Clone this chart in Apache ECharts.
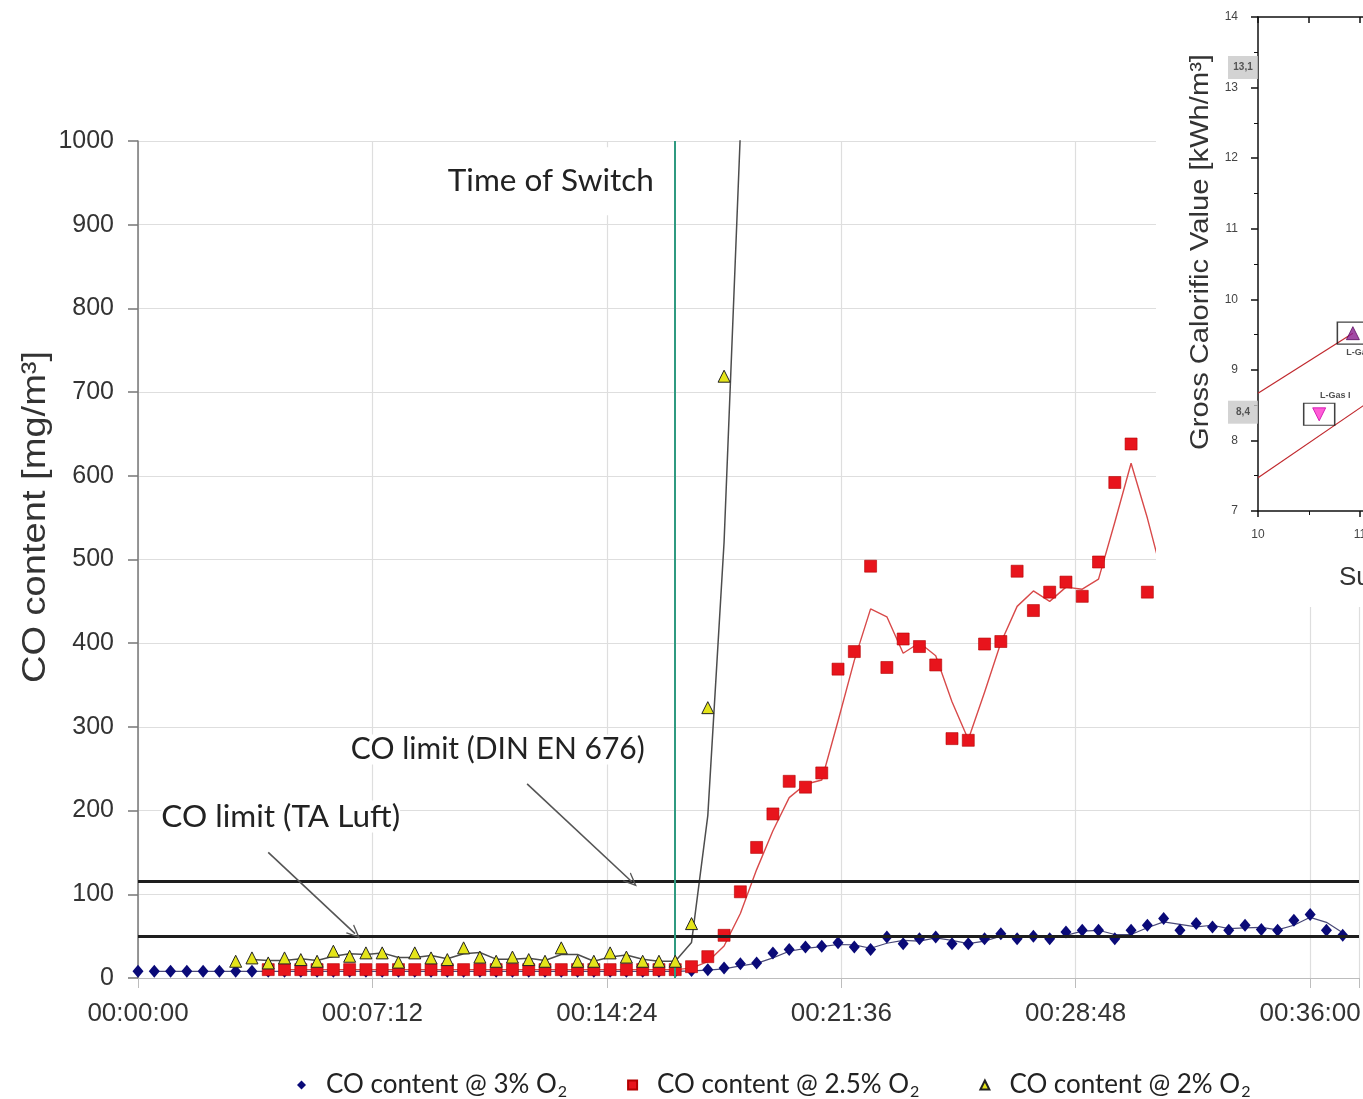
<!DOCTYPE html>
<html>
<head>
<meta charset="utf-8">
<title>CO content after gas switch</title>
<script src="https://cdn.jsdelivr.net/npm/echarts@6/dist/echarts.min.js"></script>
<style>
  html, body { margin: 0; padding: 0; background: #fff; }
  #chart { width: 1363px; height: 1099px; }
</style>
</head>
<body>
<div id="chart"></div>
<script>
// ---- measured data: one reading every 30 s ----
const sampleTimes = [
  0, 30, 60, 90, 120, 150, 180, 210, 240, 270,
  300, 330, 360, 390, 420, 450, 480, 510, 540, 570,
  600, 630, 660, 690, 720, 750, 780, 810, 840, 870,
  900, 930, 960, 990, 1020, 1050, 1080, 1110, 1140, 1170,
  1200, 1230, 1260, 1290, 1320, 1350, 1380, 1410, 1440, 1470,
  1500, 1530, 1560, 1590, 1620, 1650, 1680, 1710, 1740, 1770,
  1800, 1830, 1860, 1890, 1920, 1950, 1980, 2010, 2040, 2070,
  2100, 2130, 2160, 2190, 2220
];

// CO content @ 3% O2  [mg/m3]
const co3 = [
  8, 8, 8, 8, 8, 8, 8, 8, 8, 8,
  8, 8, 8, 8, 8, 8, 8, 8, 8, 8,
  8, 8, 8, 8, 8, 8, 8, 8, 8, 8,
  8, 8, 8, 8, 9, 10, 12, 17, 18, 30,
  34, 37, 38, 42, 37, 34, 49, 41, 47, 49,
  41, 41, 47, 53, 47, 50, 47, 55, 57, 57,
  47, 57, 63, 71, 57, 65, 61, 57, 63, 58,
  57, 69, 76, 57, 51
];

// CO content @ 2.5% O2  [mg/m3]
const co25 = [
  null, null, null, null, null, null, null, null, 10, 10,
  10, 10, 10, 10, 10, 10, 10, 10, 10, 10,
  10, 10, 10, 10, 10, 10, 10, 10, 10, 10,
  10, 10, 10, 10, 13.5, 25.5, 51, 103, 156, 196,
  235, 228, 245, 369, 390, 492, 371, 405, 396, 374,
  286, 284, 399, 402, 486, 439, 461, 473, 456, 497,
  592, 638, 461, 489, null, null, null, null, null, null,
  null, null, null, null, null
];

// CO content @ 2% O2  [mg/m3]
const co2 = [
  null, null, null, null, null, null, 20, 24, 18, 24,
  22, 20, 32, 26, 30, 30, 19, 30, 24, 22,
  36, 25, 20, 25, 22, 20, 36, 20, 20, 30,
  25, 20, 20, 20, 65, 323, 719, 1300, null, null,
  null, null, null, null, null, null, null, null, null, null,
  null, null, null, null, null, null, null, null, null, null,
  null, null, null, null, null, null, null, null, null, null,
  null, null, null, null, null
];

const seriesNames = ['CO content @ 3% O₂', 'CO content @ 2.5% O₂', 'CO content @ 2% O₂'];

// time axis tick labels, one every 432 s
const timeTicks = ['00:00:00', '00:07:12', '00:14:24', '00:21:36', '00:28:48', '00:36:00'];
const tickStep = 432;

// emission limits [mg/m3] and switch time [s]
const limitTaLuft = 50;
const limitDinEn676 = 115;
const switchTime = 990;

// ---- inset: gross calorific value vs. Wobbe index ----
const gcvLines = [13.1, 8.4];
const gcvTags = ['13,1', '8,4'];
const upperBound = [[10, 8.67], [10.93, 9.52]];
const lowerBound = [[10, 7.47], [11.05, 8.51]];
const gasNames = ['L-Gas I', 'L-Gas II'];
const gasPoints = [[10.6, 8.37], [10.93, 9.52]];
const wobbeMark = 11;

// ---- helpers ----
const points = vals => sampleTimes.map((t, i) => [t, vals[i]]).filter(p => p[1] != null);
const movingAverage = vals => {
  const out = [];
  for (let i = 1; i < vals.length; i++) {
    if (vals[i] != null && vals[i - 1] != null) out.push([sampleTimes[i], (vals[i] + vals[i - 1]) / 2]);
  }
  return out;
};

const SANS = "'Liberation Sans', Arial, sans-serif";
const CAL = "Lato, 'Liberation Sans', sans-serif";

const arrowHead = 'path://M0,0 L6,10 L4.6,10 L0,2.6 L-4.6,10 L-6,10 Z';
const pointerLine = { color: '#555', width: 1.6, type: 'solid' };

const chart = echarts.init(document.getElementById('chart'));

const option = {
  backgroundColor: '#ffffff',
  animation: false,
  grid: [
    { left: 138, top: 141, width: 1221, height: 837, containLabel: false, outerBoundsMode: 'none' },
    { left: 1258, top: 17, width: 204, height: 494, containLabel: false, outerBoundsMode: 'none', zlevel: 1, z: 2 }
  ],
  graphic: [
    // axis titles (slightly elongated lettering)
    { type: 'text', x: 36, y: 517, rotation: Math.PI / 2, scaleX: 1.12, z: 10,
      style: { text: 'CO content [mg/m³]', font: '34px ' + SANS, fill: '#333', align: 'center', verticalAlign: 'middle' } },
    // white panel carrying the inset diagram
    { type: 'rect', left: 1156, top: 0, shape: { width: 207, height: 607 }, style: { fill: '#ffffff' }, zlevel: 1, z: 0 },
    { type: 'text', x: 1201, y: 252, rotation: Math.PI / 2, scaleX: 1.12, zlevel: 1, z: 5,
      style: { text: 'Gross Calorific Value [kWh/m³]', font: '26px ' + SANS, fill: '#333', align: 'center', verticalAlign: 'middle' } },
    { type: 'text', x: 1339, y: 578, zlevel: 1, z: 5,
      style: { text: 'Superior Wobbe Index [kWh/m³]', font: '26px ' + SANS, fill: '#333', verticalAlign: 'middle' } }
  ],
  legend: {
    left: 292, top: 1067, width: 1060,
    itemWidth: 9, itemHeight: 9, itemGap: 60,
    symbolKeepAspect: true,
    data: [
      { name: seriesNames[0], icon: 'diamond' },
      { name: seriesNames[1], icon: 'rect' },
      { name: seriesNames[2], icon: 'triangle' }
    ],
    formatter: name => '{a|' + name.split('O₂')[0] + 'O}{s|2}',
    textStyle: {
      rich: {
        a: { fontSize: 26, fontFamily: CAL, color: '#222', padding: [0, 0, 0, 15] },
        s: { fontSize: 16, fontFamily: CAL, color: '#222', padding: [13, 0, 0, 1] }
      }
    }
  },
  xAxis: [
    {
      type: 'value', gridIndex: 0, min: 0, max: 2250, interval: tickStep,
      axisLine: { show: true, lineStyle: { color: '#bdbdbd' } },
      axisTick: { show: true, length: 10, lineStyle: { color: '#bdbdbd' } },
      splitLine: { show: true, lineStyle: { color: '#dedede', width: 1.2 } },
      axisLabel: {
        margin: 23, fontSize: 26, fontFamily: SANS, color: '#333',
        formatter: v => {
          const i = Math.round(v / tickStep);
          return Math.abs(v - i * tickStep) < 1e-6 && timeTicks[i] ? timeTicks[i] : '';
        }
      }
    },
    {
      type: 'value', gridIndex: 1, min: 10, max: 12, interval: 1, zlevel: 1, z: 3,
      axisLine: { show: true, lineStyle: { color: '#111', width: 1.5 } },
      axisTick: { show: true, length: 6, lineStyle: { color: '#111', width: 1.5 } },
      minorTick: { show: true, splitNumber: 2, length: 4, lineStyle: { color: '#111' } },
      splitLine: { show: false },
      axisLabel: { margin: 18, fontSize: 12, fontFamily: SANS, color: '#444' }
    },
    {
      type: 'value', gridIndex: 1, position: 'top', min: 10, max: 12, interval: 0.5, zlevel: 1, z: 3,
      axisLine: { show: true, lineStyle: { color: '#111', width: 1.5 } },
      axisTick: { show: true, inside: true, length: 6, lineStyle: { color: '#111', width: 1.5 } },
      splitLine: { show: false },
      axisLabel: { show: false }
    }
  ],
  yAxis: [
    {
      type: 'value', gridIndex: 0, min: 0, max: 1000, interval: 100,
      axisLine: { show: true, lineStyle: { color: '#777', width: 1.5 } },
      axisTick: { show: true, length: 10, lineStyle: { color: '#777', width: 1.5 } },
      splitLine: { show: true, lineStyle: { color: '#dedede', width: 1.2 } },
      axisLabel: { margin: 24, fontSize: 25, fontFamily: SANS, color: '#333', formatter: v => String(v) }
    },
    {
      type: 'value', gridIndex: 1, min: 7, max: 14, interval: 1, zlevel: 1, z: 3,
      axisLine: { show: true, lineStyle: { color: '#111', width: 1.5 } },
      axisTick: { show: true, length: 7, lineStyle: { color: '#111', width: 1.5 } },
      minorTick: { show: true, splitNumber: 2, length: 4, lineStyle: { color: '#111' } },
      splitLine: { show: false },
      axisLabel: { margin: 20, fontSize: 12, fontFamily: SANS, color: '#444' }
    }
  ],
  series: [
    // moving-average trend lines (period 2)
    {
      type: 'line', name: 'trend-3', xAxisIndex: 0, yAxisIndex: 0, data: movingAverage(co3),
      showSymbol: false, silent: true, z: 2, lineStyle: { color: '#4a4a78', width: 1.2 }
    },
    {
      type: 'line', name: 'trend-2.5', xAxisIndex: 0, yAxisIndex: 0, data: movingAverage(co25),
      showSymbol: false, silent: true, z: 2, lineStyle: { color: '#d84a4a', width: 1.4 },
      markLine: {
        silent: true, symbol: 'none', label: { show: false },
        data: [
          { yAxis: limitTaLuft, lineStyle: { color: '#1e1e1e', width: 3.2, type: 'solid' } },
          { yAxis: limitDinEn676, lineStyle: { color: '#1e1e1e', width: 3.2, type: 'solid' } },
          { xAxis: switchTime, lineStyle: { color: '#2f9a80', width: 2, type: 'solid' } },
          [
            { coord: [717, 232], symbol: 'none', lineStyle: pointerLine },
            { coord: [910, 115], symbol: arrowHead, symbolSize: [12, 14] }
          ],
          [
            { coord: [240, 150], symbol: 'none', lineStyle: pointerLine },
            { coord: [400, 53], symbol: arrowHead, symbolSize: [12, 14] }
          ]
        ]
      },
      markPoint: {
        silent: true, symbol: 'circle', symbolSize: 1, itemStyle: { color: 'rgba(0,0,0,0)' },
        label: { show: true, position: 'inside', fontSize: 31.5, fontFamily: CAL, color: '#222', backgroundColor: '#fff' },
        data: [
          { coord: [757, 952], value: 'Time of Switch', label: { formatter: 'Time of Switch', padding: [18, 16, 18, 20] } },
          { coord: [663, 273], value: 'CO limit (DIN EN 676)', label: { formatter: 'CO limit (DIN EN 676)', fontSize: 30 } },
          { coord: [263, 193], value: 'CO limit (TA Luft)', label: { formatter: 'CO limit (TA Luft)' } }
        ]
      }
    },
    {
      type: 'line', name: 'trend-2', xAxisIndex: 0, yAxisIndex: 0, data: movingAverage(co2),
      showSymbol: false, silent: true, z: 2, lineStyle: { color: '#4d4d4d', width: 1.5 }
    },
    // measured values
    {
      type: 'scatter', name: seriesNames[0], xAxisIndex: 0, yAxisIndex: 0, data: points(co3),
      symbol: 'diamond', symbolSize: [11, 13], z: 3,
      itemStyle: { color: '#0a0a78', opacity: 1 }
    },
    {
      type: 'scatter', name: seriesNames[1], xAxisIndex: 0, yAxisIndex: 0, data: points(co25),
      symbol: 'rect', symbolSize: 12, z: 4,
      itemStyle: { color: '#e8141c', borderColor: '#b30000', borderWidth: 0.6, opacity: 1 }
    },
    {
      type: 'scatter', name: seriesNames[2], xAxisIndex: 0, yAxisIndex: 0, data: points(co2),
      symbol: 'triangle', symbolSize: [12, 12], z: 5,
      itemStyle: { color: '#e4e41a', borderColor: '#222', borderWidth: 1, opacity: 1 }
    },

    // ---- inset ----
    {
      type: 'line', xAxisIndex: 1, yAxisIndex: 1, data: upperBound, zlevel: 1, z: 4,
      showSymbol: false, silent: true, lineStyle: { color: '#c0282d', width: 1.2 }
    },
    {
      type: 'line', xAxisIndex: 1, yAxisIndex: 1, data: lowerBound, zlevel: 1, z: 4,
      showSymbol: false, silent: true, lineStyle: { color: '#c0282d', width: 1.2 }
    },
    {
      type: 'scatter', xAxisIndex: 1, yAxisIndex: 1, zlevel: 1, z: 5, clip: false, silent: true,
      data: gcvLines.map((v, i) => ({
        value: [10, v],
        symbolOffset: i === 0 ? [-15, -13] : [-15, 0],
        label: { formatter: gcvTags[i] }
      })),
      symbol: 'rect', symbolSize: [30, 23],
      itemStyle: { color: '#c8c8c8' },
      label: { show: true, position: 'inside', fontSize: 10, fontWeight: 'bold', fontFamily: SANS, color: '#333' },
      markLine: {
        silent: true, symbol: 'none', label: { show: false },
        data: [
          { yAxis: gcvLines[0], lineStyle: { color: '#f0a030', width: 1.6, type: 'solid' } },
          { yAxis: gcvLines[1], lineStyle: { color: '#f0a030', width: 1.6, type: 'solid' } },
          { xAxis: wobbeMark, lineStyle: { color: '#3a34a0', width: 1.6, type: 'solid' } }
        ]
      }
    },
    {
      type: 'scatter', xAxisIndex: 1, yAxisIndex: 1, zlevel: 1, z: 6, silent: true, clip: false,
      data: gasPoints.map((p, i) => ({
        value: p,
        label: i === 0
          ? { position: 'top', distance: 3, offset: [16, 0], formatter: gasNames[0] }
          : { position: 'bottom', distance: 3, offset: [10, 0], formatter: gasNames[1] }
      })),
      symbol: 'rect', symbolSize: [31, 22],
      itemStyle: { color: 'rgba(255,255,255,0)', borderColor: '#111', borderWidth: 1.3 },
      label: { show: true, fontSize: 9, fontWeight: 'bold', fontFamily: SANS, color: '#222' }
    },
    {
      type: 'scatter', xAxisIndex: 1, yAxisIndex: 1, zlevel: 1, z: 7, silent: true, clip: false,
      data: gasPoints.map((p, i) => ({
        value: p,
        symbolRotate: i === 0 ? 180 : 0,
        itemStyle: i === 0
          ? { color: '#ff33cc', borderColor: '#cc00aa', borderWidth: 1 }
          : { color: '#8a1d8f', borderColor: '#5a0a5f', borderWidth: 1 }
      })),
      symbol: 'triangle', symbolSize: 13
    }
  ]
};

chart.setOption(option);
</script>
</body>
</html>
